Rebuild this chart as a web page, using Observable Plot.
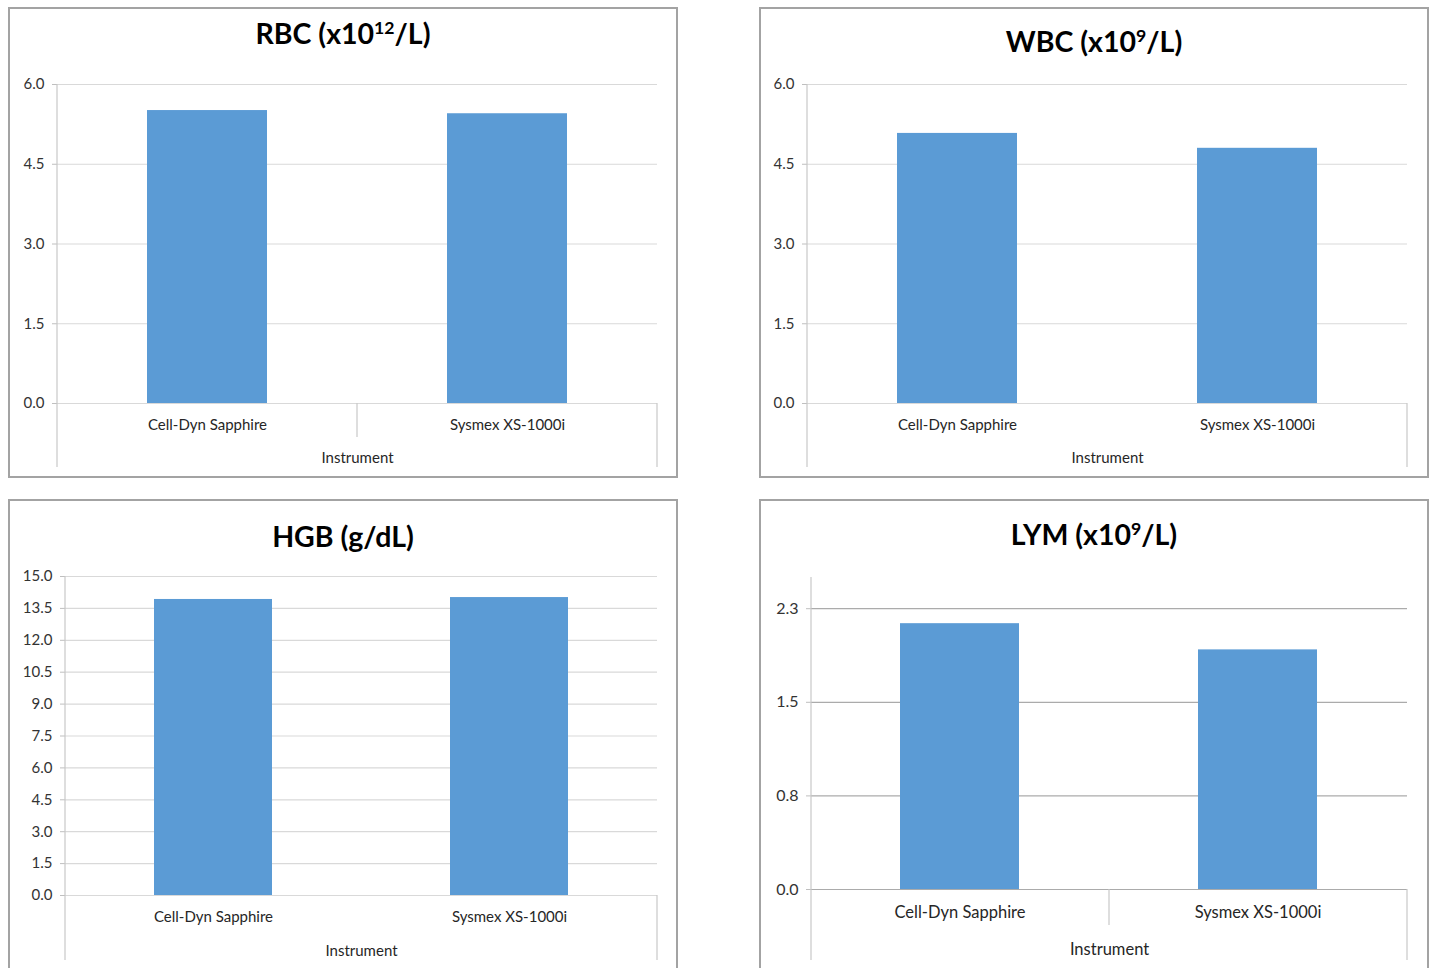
<!DOCTYPE html>
<html>
<head>
<meta charset="utf-8">
<script src="https://cdn.jsdelivr.net/npm/d3@7"></script>
<script src="https://cdn.jsdelivr.net/npm/@observablehq/plot@0.6"></script>
<style>
  html, body { margin: 0; padding: 0; background: #fff; width: 1430px; height: 968px; overflow: hidden; }
  #page { position: relative; width: 1430px; height: 968px; overflow: hidden; }
  .panel { position: absolute; box-sizing: border-box; border: 2px solid #a3a3a3; background: #fff; }
  .title { position: absolute; text-align: center; font-family: Lato, "Open Sans", sans-serif; font-weight: 700; font-size: 28.5px; line-height: 28px; color: #000; white-space: nowrap; }
  .title sup { font-size: 0.62em; vertical-align: 0.55em; line-height: 0; }
  .chart { position: absolute; }
</style>
</head>
<body>
<div id="page"></div>
<script>
// ---- data ----
const instruments = ["Cell-Dyn Sapphire", "Sysmex XS-1000i"];
const rbcValues = [5.51, 5.45];
const wbcValues = [5.08, 4.80];
const hgbValues = [13.92, 14.01];
const lymValues = [2.13, 1.92];

const rbcTicks = [0, 1.5, 3.0, 4.5, 6.0];
const wbcTicks = [0, 1.5, 3.0, 4.5, 6.0];
const hgbTicks = [0, 1.5, 3.0, 4.5, 6.0, 7.5, 9.0, 10.5, 12.0, 13.5, 15.0];
const lymTicks = [0, 0.75, 1.5, 2.25];

const rbcDomain = [0, 6];
const wbcDomain = [0, 6];
const hgbDomain = [0, 15];
const lymDomain = [0, 2.5];

const xLabel = "Instrument";

// ---- layout (page pixel coordinates) ----
const panels = [
  { title: "RBC (x10<sup>12</sup>/L)", values: rbcValues, ticks: rbcTicks, domain: rbcDomain,
    box: [8, 7, 678, 478], titleBaseline: 44, svgTop: 62, svgBottom: 476,
    plot: [57, 657, 84, 403], divBottom: 467, mid: true, midBottom: 437,
    tickFont: 15, catFont: 15, catPad: 16, labelOffset: 59, grid: "#d9d9d9" },
  { title: "WBC (x10<sup>9</sup>/L)", values: wbcValues, ticks: wbcTicks, domain: wbcDomain,
    box: [759, 7, 1429, 478], titleBaseline: 52, svgTop: 62, svgBottom: 476,
    plot: [807, 1407, 84, 403], divBottom: 467, mid: false,
    tickFont: 15, catFont: 15, catPad: 16, labelOffset: 59, grid: "#d9d9d9" },
  { title: "HGB (g/dL)", values: hgbValues, ticks: hgbTicks, domain: hgbDomain,
    box: [8, 499, 678, 990], titleBaseline: 547, svgTop: 560, svgBottom: 968,
    plot: [65, 657, 576, 895], divBottom: 960, mid: false,
    tickFont: 15, catFont: 15, catPad: 16, labelOffset: 60, grid: "#d9d9d9" },
  { title: "LYM (x10<sup>9</sup>/L)", values: lymValues, ticks: lymTicks, domain: lymDomain,
    box: [759, 499, 1429, 990], titleBaseline: 545, svgTop: 560, svgBottom: 968,
    plot: [811, 1407, 577, 889], divBottom: 960, mid: true, midBottom: 925,
    tickFont: 16, catFont: 16.5, catPad: 17, labelOffset: 65, grid: "#ababab" }
];

const page = document.getElementById("page");

for (const cfg of panels) {
  const [x0, y0, x1, y1] = cfg.box;
  const panel = document.createElement("div");
  panel.className = "panel";
  Object.assign(panel.style, { left: x0 + "px", top: y0 + "px", width: (x1 - x0) + "px", height: (y1 - y0) + "px" });
  page.appendChild(panel);

  const t = document.createElement("div");
  t.className = "title";
  t.innerHTML = cfg.title;
  Object.assign(t.style, { left: x0 + "px", width: (x1 - x0) + "px", top: (cfg.titleBaseline - 25) + "px" });
  page.appendChild(t);

  const [pl, pr, pt, pb] = cfg.plot;
  const width = x1 - x0;
  const height = cfg.svgBottom - cfg.svgTop;
  const data = instruments.map((name, i) => ({ instrument: name, value: cfg.values[i] }));

  const chart = Plot.plot({
    width, height,
    marginLeft: pl - x0,
    marginRight: x1 - pr,
    marginTop: pt - cfg.svgTop,
    marginBottom: cfg.svgBottom - pb,
    style: { fontFamily: "Lato, 'Open Sans', sans-serif", fontSize: cfg.tickFont + "px", background: "transparent", overflow: "visible" },
    x: { domain: instruments, paddingInner: 0.6, paddingOuter: 0.3 },
    y: { domain: cfg.domain, nice: false },
    marks: [
      Plot.gridY(cfg.ticks, { stroke: cfg.grid, strokeOpacity: 1, strokeWidth: 1.2 }),
      Plot.ruleY([0], { stroke: cfg.grid, strokeWidth: 1.2 }),
      Plot.barY(data, { x: "instrument", y: "value", fill: "#5b9bd5" }),
      Plot.axisY(cfg.ticks, { tickFormat: d3.format(".1f"), tickSize: 5, tickPadding: 8, stroke: "#bfbfbf", fill: "#333333", label: null, fontSize: cfg.tickFont }),
      Plot.axisX({ tickSize: 0, tickPadding: cfg.catPad, fill: "#262626", fontSize: cfg.catFont, label: xLabel, labelAnchor: "center", labelOffset: cfg.labelOffset, labelArrow: "none" })
    ]
  });
  chart.classList.add("chart");
  Object.assign(chart.style, { left: x0 + "px", top: cfg.svgTop + "px" });
  page.appendChild(chart);

  // Excel-style category dividers and y-axis line, placed via Plot's scales
  const sx = chart.scale("x");
  const sy = chart.scale("y");
  const rx0 = sx.range[0], rx1 = sx.range[1];
  const base = sy.apply(0);
  const top = sy.apply(cfg.domain[1]);
  const divBottom = cfg.divBottom - cfg.svgTop;
  const svg = d3.select(chart);
  const g = svg.append("g").attr("stroke", "#c8c8c8").attr("stroke-width", 1.2);
  g.append("line").attr("x1", rx0).attr("x2", rx0).attr("y1", top).attr("y2", divBottom);
  g.append("line").attr("x1", rx1).attr("x2", rx1).attr("y1", base).attr("y2", divBottom);
  if (cfg.mid) {
    const xm = rx0 + sx.step;
    g.append("line").attr("x1", xm).attr("x2", xm).attr("y1", base).attr("y2", cfg.midBottom - cfg.svgTop);
  }
}
</script>
</body>
</html>
